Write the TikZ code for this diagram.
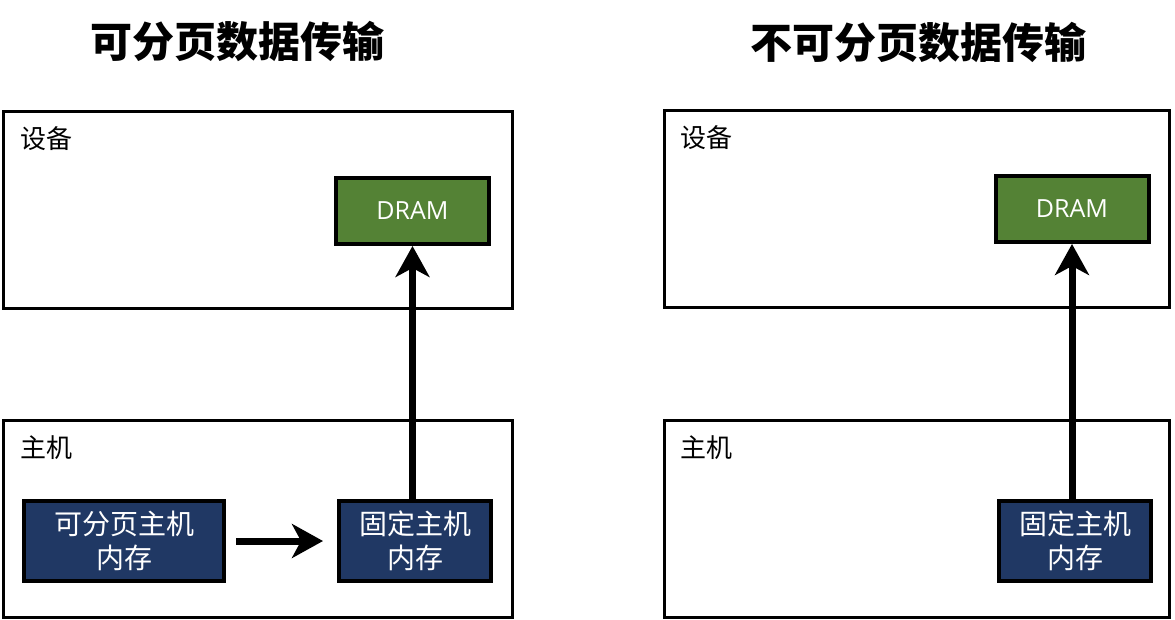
\documentclass[tikz,border=0pt]{standalone}
\usepackage{fontspec}
\setmainfont{Open Sans}
\newfontfamily\cjk{Noto Sans CJK SC}
\usetikzlibrary{arrows.meta}
\definecolor{dramgreen}{HTML}{548235}
\definecolor{memblue}{HTML}{203864}
\begin{document}
\begin{tikzpicture}[x=1pt,y=-1pt,
  outerbox/.style={draw=black,line width=3pt,rectangle,inner sep=0pt},
  drambox/.style={draw=black,line width=4pt,fill=dramgreen,text=white,minimum width=153pt,minimum height=66pt,inner sep=0pt,font=\fontsize{25}{30}\selectfont},
  membox/.style={draw=black,line width=4pt,fill=memblue,text=white,minimum height=80pt,inner sep=0pt,align=center,font=\cjk\fontsize{28}{34}\selectfont},
  titletext/.style={font=\cjk\bfseries\fontsize{42}{48}\selectfont,inner sep=0pt},
  labeltext/.style={font=\cjk\fontsize{26}{30}\selectfont,anchor=west,inner sep=0pt},
  bigarrow/.style={line width=7pt,-{Stealth[length=31pt,width=34pt,inset=9pt]}}
]
\useasboundingbox (0,0) rectangle (1175,620);
% titles
\node[titletext] (t1) at (237,41) {可分页数据传输};
\node[titletext] (t2) at (918,42) {不可分页数据传输};
% left panel
\node[outerbox,minimum width=509pt,minimum height=197pt] (dev1) at (258,210) {};
\node[outerbox,minimum width=509pt,minimum height=197pt] (host1) at (258,518.5) {};
\node[labeltext] (dl1) at (20,139) {设备};
\node[labeltext] (hl1) at (20,448) {主机};
\node[drambox] (dram1) at (412.5,211) {DRAM};
\node[membox,minimum width=200pt] (page1) at (124,541) {可分页主机\\内存};
\node[membox,minimum width=152pt] (pin1) at (415,541) {固定主机\\内存};
\draw[bigarrow,shorten <=10pt,shorten >=14pt] (page1.east) -- (pin1.west);
\draw[bigarrow] (pin1.north -| dram1.south) -- (dram1.south);
% right panel
\node[outerbox,minimum width=505pt,minimum height=197pt] (dev2) at (917,209) {};
\node[outerbox,minimum width=505pt,minimum height=197pt] (host2) at (917,518.5) {};
\node[labeltext] (dl2) at (680,138) {设备};
\node[labeltext] (hl2) at (680,448) {主机};
\node[drambox] (dram2) at (1072,209) {DRAM};
\node[membox,minimum width=152pt] (pin2) at (1075,540.5) {固定主机\\内存};
\draw[bigarrow] (pin2.north -| dram2.south) -- (dram2.south);
\end{tikzpicture}
\end{document}
